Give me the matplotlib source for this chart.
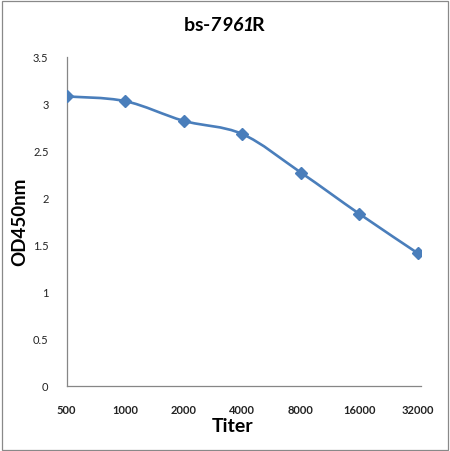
import matplotlib
matplotlib.use("Agg")
import matplotlib.pyplot as plt
from matplotlib.path import Path
from matplotlib.patches import PathPatch, Rectangle
import numpy as np

titers = ["500", "1000", "2000", "4000", "8000", "16000", "32000"]
od450 = [3.08, 3.03, 2.82, 2.68, 2.27, 1.83, 1.41]
yticks = [0, 0.5, 1, 1.5, 2, 2.5, 3, 3.5]
ytick_labels = ["0", "0.5", "1", "1.5", "2", "2.5", "3", "3.5"]

FONT = ["Lato", "DejaVu Sans"]
COLOR = "#4A7EBB"

plt.rcParams["mathtext.fontset"] = "custom"
plt.rcParams["mathtext.sf"] = "Lato:italic:bold"
plt.rcParams["mathtext.it"] = "Lato:italic:bold"
plt.rcParams["mathtext.rm"] = "Lato:bold"
plt.rcParams["mathtext.bf"] = "Lato:bold"

fig = plt.figure(figsize=(4.5, 4.52), dpi=100)
ax = fig.add_axes([0.148, 0.1445, 0.787, 0.7272])

x = np.arange(len(titers))
y = np.array(od450)

# smoothed line (Excel style bezier through points)
pts = np.column_stack([x, y])
verts = [tuple(pts[0])]
codes = [Path.MOVETO]
n = len(pts)
for i in range(n - 1):
    p0 = pts[i - 1] if i > 0 else pts[i]
    p1 = pts[i]
    p2 = pts[i + 1]
    p3 = pts[i + 2] if i + 2 < n else pts[i + 1]
    c1 = p1 + (p2 - p0) / 6.0
    c2 = p2 - (p3 - p1) / 6.0
    verts += [tuple(c1), tuple(c2), tuple(p2)]
    codes += [Path.CURVE4] * 3
patch = PathPatch(Path(verts, codes), facecolor="none", edgecolor=COLOR,
                  lw=1.9, capstyle="round", joinstyle="round", zorder=2)
ax.add_patch(patch)
ax.plot(x, y, linestyle="none", marker="D", markersize=6, color=COLOR,
        markeredgecolor=COLOR, zorder=3)

ax.set_xlim(0, 6.05)
ax.set_ylim(0, 3.5)
ax.set_xticks(x)
ax.set_xticklabels(titers, fontfamily=FONT, fontsize=8, fontweight="bold", color="#222222")
ax.set_yticks(yticks)
ax.set_yticklabels(ytick_labels, fontfamily=FONT, fontsize=8, color="#222222")
ax.tick_params(axis="both", length=0)
ax.tick_params(axis="x", pad=13)
ax.tick_params(axis="y", pad=13)
for s in ["top", "right"]:
    ax.spines[s].set_visible(False)
for s in ["left", "bottom"]:
    ax.spines[s].set_color("#868686")
    ax.spines[s].set_linewidth(0.9)

fig.text(0.045, 1 - 222 / 452, "OD450nm", rotation=90, ha="center", va="center",
         fontfamily=FONT, fontsize=13.5, fontweight="bold")
fig.text(233 / 450, 1 - 427 / 452, "Titer", ha="center", va="center",
         fontfamily=FONT, fontsize=14, fontweight="bold")

# title with italic middle part
fig.text(225 / 450, 1 - 25 / 452, r"bs-$\mathsf{7961}\!$R", ha="center", va="center",
         fontfamily=FONT, fontsize=14, fontweight="bold")

fig.patches.append(Rectangle((1.5 / 450, 1.5 / 452), 446.5 / 450, 448.5 / 452,
                             transform=fig.transFigure, fill=False,
                             edgecolor="#898989", lw=0.9))

fig.savefig("out.png", dpi=100)
